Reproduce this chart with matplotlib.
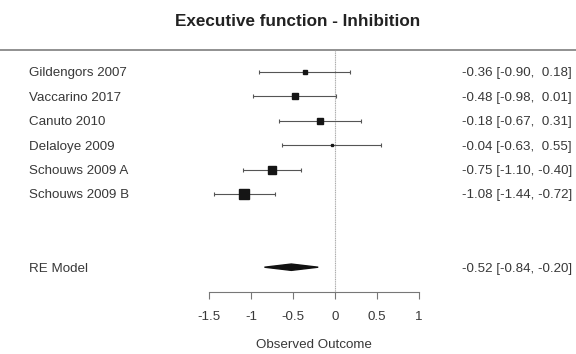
import numpy as np
import matplotlib
matplotlib.use('Agg')
from matplotlib import pyplot as plt
from matplotlib.patches import Polygon

plt.rcParams['font.family'] = ['Liberation Sans', 'DejaVu Sans']

studies = ['Gildengors 2007', 'Vaccarino 2017', 'Canuto 2010', 'Delaloye 2009',
           'Schouws 2009 A', 'Schouws 2009 B']
est = [-0.36, -0.48, -0.18, -0.04, -0.75, -1.08]
lo = [-0.90, -0.98, -0.67, -0.63, -1.10, -1.44]
hi = [0.18, 0.01, 0.31, 0.55, -0.40, -0.72]
box_pt = [3.4, 4.4, 4.0, 1.4, 6.4, 6.6]   # square marker sizes (points)

re_est, re_lo, re_hi = -0.52, -0.84, -0.20
xticks = [-1.5, -1, -0.5, 0, 0.5, 1]

rows = np.arange(len(studies), 0, -1)
re_row = -2
axis_row = -3
top_row = 6.9

fig = plt.figure(figsize=(5.76, 3.54), dpi=100)
ax = fig.add_axes([0, 0, 1, 1])
ax.set_xlim(-3.988, 2.869)
ax.set_ylim(-5.557, 8.95)

txt = '#383838'
line = '#555555'
fs = 9.6

# top separator line
ax.axhline(top_row, color='#888888', lw=1.3)
# zero line
ax.plot([0, 0], [axis_row, top_row], color='#aaaaaa', lw=0.8, ls=(0, (1, 0.6)))

# studies
for name, r, e, l, h, s in zip(studies, rows, est, lo, hi, box_pt):
    ax.errorbar(e, r, xerr=[[e - l], [h - e]], fmt='none', ecolor=line,
                elinewidth=0.8, capsize=1.6, capthick=0.8)
    ax.plot(e, r, marker='s', ms=s, color='#151515', mec='#151515', ls='none')
    ax.text(-3.64, r, name, ha='left', va='center_baseline', fontsize=fs, color=txt)
    ax.text(2.82, r, f'{e:.2f} [{l:.2f}, {h:5.2f}]', ha='right',
            va='center_baseline', fontsize=fs, color=txt)

# RE model diamond
ax.add_patch(Polygon([[re_lo, re_row], [re_est, re_row + 0.13],
                      [re_hi, re_row], [re_est, re_row - 0.13]],
                     closed=True, color='#111111'))
ax.text(-3.64, re_row, 'RE Model', ha='left', va='center_baseline', fontsize=fs,
        color=txt)
ax.text(2.82, re_row, f'{re_est:.2f} [{re_lo:.2f}, {re_hi:.2f}]', ha='right',
        va='center_baseline', fontsize=fs, color=txt)

# bottom axis
for sp in ['top', 'right', 'left']:
    ax.spines[sp].set_visible(False)
ax.spines['bottom'].set_position(('data', axis_row))
ax.spines['bottom'].set_bounds(xticks[0], xticks[-1])
ax.spines['bottom'].set_color('#777777')
ax.spines['bottom'].set_linewidth(0.8)
ax.set_xticks(xticks)
ax.set_xticklabels([f'{t:g}' for t in xticks])
ax.tick_params(axis='x', direction='out', length=5, width=0.8, color='#777777',
               labelsize=fs, labelcolor=txt, pad=9)
ax.set_yticks([])
ax.text((xticks[0] + xticks[-1]) / 2, -5.2, 'Observed Outcome', ha='center',
        va='center', fontsize=fs, color=txt)

fig.text(0.517, 0.94, 'Executive function - Inhibition', ha='center', va='center',
         fontsize=12.3, fontweight='bold', color='#222222')

fig.savefig('out.png', dpi=100)
